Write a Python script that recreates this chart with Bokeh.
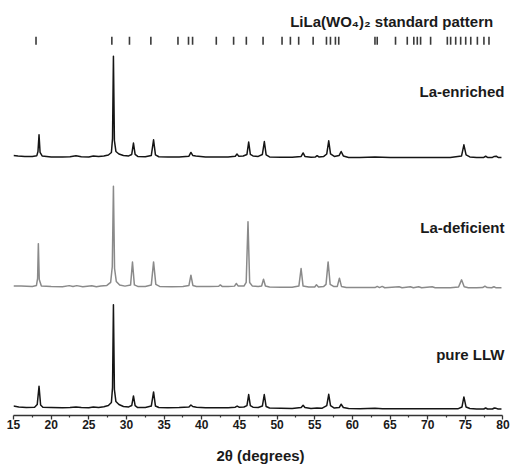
from bokeh.plotting import figure
from bokeh.models import Range1d, FixedTicker, Label
from bokeh.embed import file_html
from bokeh.resources import INLINE

# ---------------- data ----------------
# LiLa(WO4)2 standard pattern reflection positions (2theta, degrees)
standard_2theta = [17.99, 28.06, 30.40, 33.24, 36.84, 38.24, 38.78, 41.93, 44.23,
                   45.92, 48.14, 50.66, 51.77, 52.87, 54.79, 56.56, 57.09, 57.75,
                   58.19, 63.0, 63.3, 65.73, 67.29, 68.16, 68.62, 69.06, 70.39,
                   72.61, 73.05, 73.72, 74.38, 75.05, 75.72, 76.6, 77.47, 78.14]

# measured patterns: (2theta, intensity above own baseline, arbitrary units)
la_enriched = [
    (15.0, 1.0), (15.6, 0.4), (16.5, 0.0), (17.5, 0.0), (18.1, 0.8), (18.25, 5),
    (18.39, 21.7), (18.53, 4), (18.8, 0.5), (20.0, -0.5), (21.5, -0.5), (22.5, -0.2),
    (23.3, 0.6), (24.0, -0.3), (25.0, -0.5), (25.6, 0.5), (26.3, 0.0), (27.0, 0.5),
    (27.6, 1.5), (28.0, 4), (28.15, 18), (28.27, 100.7), (28.4, 16), (28.6, 5),
    (29.0, 2.5), (29.6, 1.0), (30.3, 0.5), (30.7, 2), (30.93, 13.4), (31.15, 2),
    (31.5, 0), (32.5, -0.3), (33.3, 1), (33.6, 16.7), (33.85, 1.5), (34.3, -0.3),
    (35.5, -0.5), (37.0, -0.5), (38.3, 0.3), (38.56, 4), (38.8, 1), (39.2, 0.5),
    (40.5, -0.5), (42.0, -0.5), (43.5, -0.5), (44.45, 0.3), (44.68, 2.4), (44.9, 0.3),
    (45.5, 0.5), (46.0, 2), (46.23, 14.4), (46.45, 2), (46.8, 0.5), (47.5, 0),
    (48.05, 2), (48.31, 15), (48.55, 1.5), (49.0, -0.5), (50.5, -0.8), (52.0, -0.8),
    (53.2, 0), (53.46, 3.5), (53.7, 0), (54.5, -0.8), (55.1, -0.5), (55.32, 0.8),
    (55.55, -0.5), (56.2, 0), (56.6, 2.5), (56.86, 15.7), (57.1, 2.5), (57.6, 0),
    (58.25, 1), (58.51, 5), (58.8, 0.5), (59.5, -1), (61.0, -1), (63.0, -0.5),
    (65.0, -1), (67.0, -1), (69.0, -1), (71.0, -1), (73.0, -1), (74.5, 0.5),
    (74.81, 11.7), (75.1, 1.5), (75.6, -0.5), (76.5, -1), (77.45, -1), (77.7, 0.2),
    (77.95, -1), (78.6, -1), (78.85, 0), (79.1, 0.3), (79.35, -1), (79.8, -1),
]

la_deficient = [
    (15.0, 0.5), (16.0, 0.3), (17.5, 0), (18.05, 1), (18.2, 8), (18.3, 43),
    (18.42, 7), (18.7, 0.5), (20.0, 0), (21.5, -0.3), (22.4, 0.8), (22.9, 0),
    (23.4, 0.8), (24.2, -0.3), (25.4, 0.6), (26.0, -0.3), (26.6, 0.5), (27.4, 1),
    (27.9, 4), (28.12, 20), (28.27, 100.6), (28.42, 18), (28.65, 5), (29.1, 1.5),
    (29.8, 0.3), (30.55, 1.5), (30.8, 24.6), (31.05, 1.5), (31.5, 0), (32.5, 0),
    (33.3, 1.5), (33.6, 24.6), (33.9, 2), (34.4, 0), (36.0, -0.3), (37.5, 0),
    (38.3, 1), (38.56, 11.3), (38.82, 1), (39.3, 0), (41.0, -0.2), (42.25, 0.2),
    (42.46, 1.5), (42.7, 0), (43.5, -0.2), (44.35, 0.3), (44.59, 3), (44.85, 0.3),
    (45.6, 0.3), (45.9, 4), (46.14, 65), (46.36, 4), (46.7, 0.5), (47.5, 0),
    (47.95, 0.5), (48.2, 7.3), (48.45, 0.5), (49.0, -0.5), (50.5, -0.8), (52.0, -0.8),
    (52.9, 0.5), (53.19, 18), (53.45, 0.5), (54.2, -0.5), (55.0, -0.5), (55.23, 1.6),
    (55.5, -0.5), (56.2, 0), (56.5, 2), (56.78, 24.6), (57.05, 2), (57.5, 0),
    (58.0, 0), (58.28, 8.3), (58.55, 0), (59.2, -1), (61.0, -1.2), (63.0, -1.2),
    (63.3, 0), (63.6, -1.2), (63.96, 0), (64.3, -1.3), (66.2, -0.3), (66.6, -1.3),
    (67.7, -0.3), (68.1, -1.4), (68.8, -0.3), (69.2, -1.4), (70.6, -0.4), (71.0, -1.4),
    (73.0, -1.4), (74.1, -0.5), (74.5, 6.6), (74.85, -0.3), (75.4, -1.4), (76.5, -1.4),
    (77.3, -1.2), (77.6, 0.2), (77.9, -1.2), (78.5, -1.3), (78.8, -0.3), (79.1, -1.4),
    (79.8, -1.4),
]

pure_llw = [
    (15.0, 1.5), (15.7, 0.6), (16.7, 0), (17.8, 0.3), (18.15, 3), (18.39, 21.3),
    (18.6, 2.5), (18.9, 0.3), (20.0, 0), (21.5, -0.2), (22.5, 0), (23.3, 0.6),
    (24.0, 0), (25.0, -0.3), (25.6, 0.5), (26.3, 0), (27.0, 0.7), (27.6, 2),
    (28.0, 5), (28.15, 20), (28.27, 103.3), (28.4, 18), (28.6, 6), (29.0, 3),
    (29.6, 1), (30.3, 0.6), (30.7, 2), (30.93, 11.7), (31.15, 2), (31.5, 0),
    (32.5, 0), (33.3, 1.5), (33.6, 15.7), (33.85, 1.5), (34.3, 0), (35.5, -0.3),
    (37.0, 0), (38.3, 0.5), (38.56, 2.6), (38.8, 1), (39.3, 0.3), (40.5, -0.3),
    (42.0, -0.3), (43.5, -0.3), (44.45, 0.3), (44.7, 1.5), (44.95, 0.3), (45.6, 0.5),
    (46.0, 2), (46.23, 13), (46.45, 2), (46.8, 0.3), (47.5, 0), (48.05, 1.5),
    (48.3, 13), (48.55, 1), (49.0, -0.5), (50.5, -0.8), (52.0, -1), (53.2, 0),
    (53.46, 2.3), (53.7, 0), (54.5, -1), (55.3, -0.5), (56.0, -0.6), (56.6, 2),
    (56.86, 13.3), (57.1, 2), (57.6, -0.5), (58.25, 0), (58.51, 3.3), (58.8, 0),
    (59.5, -1), (61.0, -1.2), (63.0, -0.8), (64.0, -1.3), (66.0, -1.3), (68.0, -1.3),
    (70.0, -1.3), (72.0, -1.3), (74.0, -1.3), (74.55, 0.5), (74.81, 10.7), (75.1, 0.5),
    (75.6, -1), (76.5, -1.5), (77.45, -1.5), (77.7, -0.5), (77.95, -1.5), (78.6, -1.5),
    (78.85, -0.5), (79.1, -0.8), (79.35, -1.5), (79.8, -1.5),
]

sample_labels = ["La-enriched", "La-deficient", "pure LLW"]
x_ticks = [15, 20, 25, 30, 35, 40, 45, 50, 55, 60, 65, 70, 75, 80]
x_minor_ticks = [17.5, 22.5, 27.5, 32.5, 37.5, 42.5, 47.5, 52.5, 57.5, 62.5,
                 67.5, 72.5, 77.5]

# ---------------- figure ----------------
FONT = "Liberation Sans"
p = figure(width=510, height=466, output_backend="svg", toolbar_location=None,
           x_range=Range1d(15, 80.6), y_range=Range1d(0, 417),
           min_border_left=13, min_border_right=3, min_border_top=0,
           min_border_bottom=49, y_axis_location=None)
p.outline_line_color = None
p.grid.visible = False
p.background_fill_color = "white"
p.border_fill_color = "white"

# stacking offsets for the three patterns
offsets = [260.3, 129.7, 8.0]
colors = ["#151515", "#8a8a8a", "#151515"]
series = [la_enriched, la_deficient, pure_llw]
label_y = [326, 189, 61]

for data, off, col, lab, ly in zip(series, offsets, colors, sample_labels, label_y):
    xs = [d[0] for d in data]
    ys = [d[1] + off for d in data]
    p.line(xs, ys, line_color=col, line_width=1.5, line_join="round")
    p.add_layout(Label(x=80.2, y=ly, text=lab, text_align="right",
                       text_baseline="middle", text_font=FONT,
                       text_font_style="bold", text_font_size="15px",
                       text_color="#1a1a1a"))

# standard pattern sticks
p.segment(x0=standard_2theta, y0=372.5, x1=standard_2theta, y1=380.5,
          line_color="#3a3a3a", line_width=1.6)
p.add_layout(Label(x=78.7, y=396, text="LiLa(WO\u2084)\u2082 standard pattern",
                   text_align="right", text_baseline="middle", text_font=FONT,
                   text_font_style="bold", text_font_size="15px",
                   text_color="#1a1a1a"))

# x axis
ax = p.xaxis[0]
ax.bounds = (15, 80)
ax.ticker = FixedTicker(ticks=x_ticks, minor_ticks=x_minor_ticks)
ax.axis_label = "2\u03b8 (degrees)"
ax.axis_label_text_font = FONT
ax.axis_label_text_font_style = "bold"
ax.axis_label_text_font_size = "15px"
ax.axis_label_text_color = "#1a1a1a"
ax.axis_label_standoff = 15
ax.major_label_text_font = FONT
ax.major_label_text_font_style = "bold"
ax.major_label_text_font_size = "12px"
ax.major_label_text_color = "#1a1a1a"
ax.major_label_standoff = 0
ax.axis_line_color = "#333333"
ax.axis_line_width = 1.6
ax.major_tick_line_color = "#333333"
ax.minor_tick_line_color = "#333333"
ax.major_tick_line_width = 1.3
ax.minor_tick_line_width = 1.2
ax.major_tick_in = 0
ax.major_tick_out = 4
ax.minor_tick_in = 0
ax.minor_tick_out = 2

open("out.html", "w").write(file_html(p, INLINE))
